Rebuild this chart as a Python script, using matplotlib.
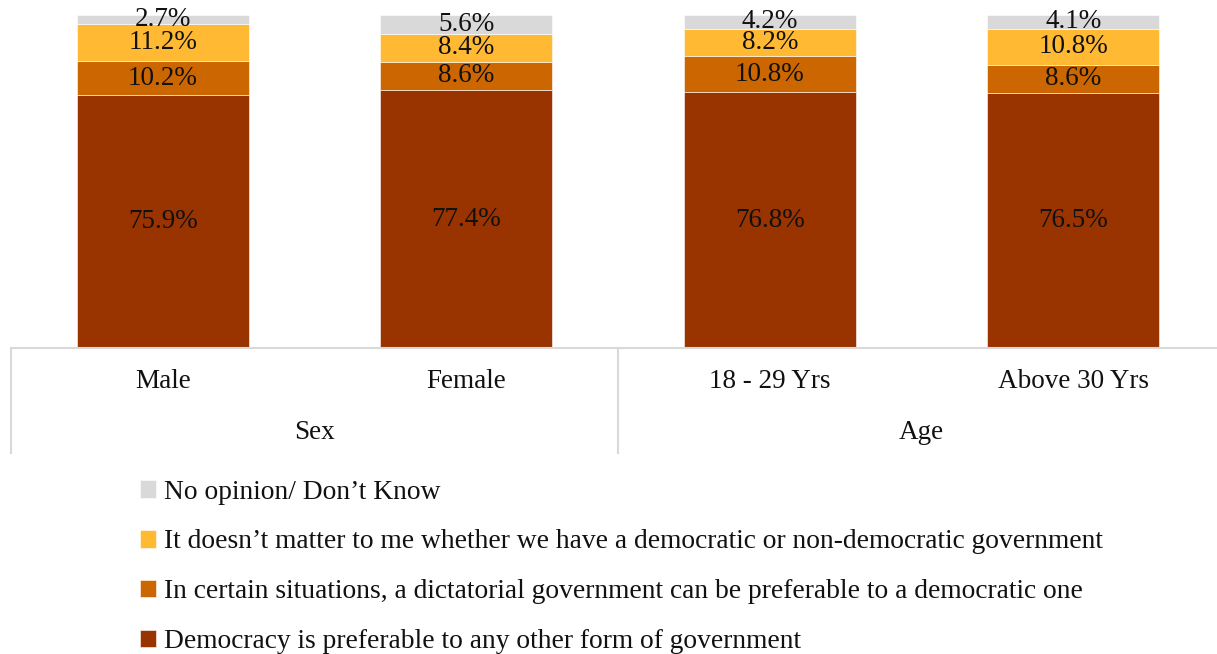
import matplotlib.pyplot as plt
import numpy as np

plt.rcParams['font.family'] = ['Liberation Serif', 'DejaVu Serif']

categories = ['Male', 'Female', '18 - 29 Yrs', 'Above 30 Yrs']
groups = ['Sex', 'Age']
group_sizes = [2, 2]

series = [
    'Democracy is preferable to any other form of government',
    'In certain situations, a dictatorial government can be preferable to a democratic one',
    'It doesn\u2019t matter to me whether we have a democratic or non-democratic government',
    'No opinion/ Don\u2019t Know',
]
values = [
    [75.9, 77.4, 76.8, 76.5],
    [10.2, 8.6, 10.8, 8.6],
    [11.2, 8.4, 8.2, 10.8],
    [2.7, 5.6, 4.2, 4.1],
]
colors = ['#993300', '#CC6600', '#FFB933', '#D9D9D9']

fig = plt.figure(figsize=(12.17, 6.54), dpi=100)
# the category axis runs a little past the right edge of the picture
ax = fig.add_axes([11 / 1217, 1 - 348 / 654, 1214 / 1217, 333 / 654])

x = np.arange(len(categories))
bottom = np.zeros(len(categories))
handles = []
for name, vals, c in zip(series, values, colors):
    vals = np.array(vals)
    bars = ax.bar(x, vals, width=0.567, bottom=bottom, color=c, label=name,
                  edgecolor='white', linewidth=0.4)
    handles.append(bars)
    for xi, b, v in zip(x, bottom, vals):
        ax.text(xi, b + v / 2, f'{v:.1f}%', ha='center', va='center',
                fontsize=19.5, color='#111111')
    bottom += vals

ax.set_xlim(-0.5, len(categories) - 0.5)
ax.set_ylim(0, 100)
for s in ['top', 'right', 'left']:
    ax.spines[s].set_visible(False)
ax.spines['bottom'].set_color('#D9D9D9')
ax.spines['bottom'].set_linewidth(1.5)
ax.set_yticks([])
ax.set_xticks([])

# multi-level category axis
trans = ax.get_xaxis_transform()
for xi, cat in zip(x, categories):
    ax.text(xi, -0.1, cat, transform=trans, ha='center', va='center', fontsize=19.5, color='#111111')
start = 0
edges = [-0.5]
for g, n in zip(groups, group_sizes):
    ax.text(start + (n - 1) / 2, -0.255, g, transform=trans, ha='center', va='center',
            fontsize=19.5, color='#111111')
    start += n
    edges.append(start - 0.5)
for e in edges:
    ax.plot([e, e], [0, -0.315], transform=trans, color='#D9D9D9', lw=1.5, clip_on=False)

leg = fig.legend(handles[::-1], series[::-1], loc='upper left',
                 bbox_to_anchor=(126 / 1217, 1 - 466 / 654), frameon=False,
                 fontsize=19.8, handlelength=0.6, handleheight=0.6, handletextpad=0.3,
                 labelspacing=0.9, borderpad=0)
for t in leg.get_texts():
    t.set_color('#111111')

fig.savefig('out.png', dpi=100)
